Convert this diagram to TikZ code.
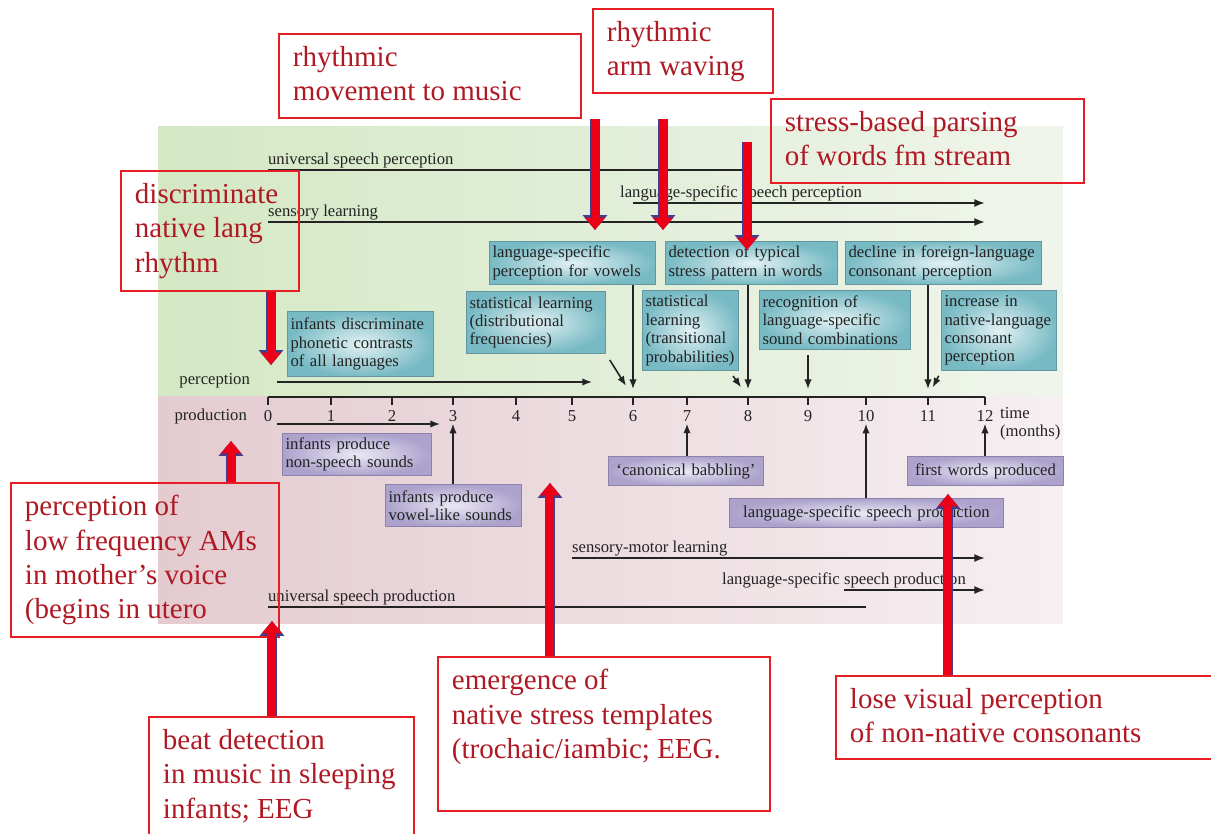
\documentclass[tikz,border=0pt]{standalone}
\usepackage{fontspec}
\setmainfont{Liberation Serif}
\usetikzlibrary{calc}
\usetikzlibrary{arrows.meta}

\definecolor{ink}{RGB}{35,35,35}
\definecolor{grnL}{RGB}{212,232,196}
\definecolor{grnR}{RGB}{240,245,236}
\definecolor{pnkL}{RGB}{228,203,208}
\definecolor{pnkR}{RGB}{246,239,241}
\definecolor{tealout}{RGB}{120,186,196}
\definecolor{tealin}{RGB}{226,241,243}
\definecolor{tealedge}{RGB}{100,150,160}
\definecolor{purpout}{RGB}{172,162,204}
\definecolor{purpin}{RGB}{236,233,245}
\definecolor{purpedge}{RGB}{140,130,172}
\definecolor{redline}{RGB}{228,30,36}
\definecolor{redtext}{RGB}{175,25,35}
\definecolor{hotred}{RGB}{236,0,24}
\definecolor{navy}{RGB}{70,60,140}

\newcommand\lblfont{\fontsize{9.5}{10.5}\selectfont}
\newcommand\redfont{\fontsize{16.5}{19.5}\selectfont}
\newcommand\redlines[3]{\parbox[c][#2][t]{#1}{\raggedright #3}}

\begin{document}
\begin{tikzpicture}[x=0.02cm, y=-0.02cm,
     lbl/.style={font=\lblfont, text=ink, inner sep=1pt},
     tbox/.style={draw=tealedge, line width=0.6pt, inner color=tealin, outer color=tealout,
                  anchor=north west, inner xsep=0.06cm, inner ysep=0.03cm,
                  font=\lblfont, text=ink, align=left},
     ubox/.style={tbox, draw=purpedge, inner color=purpin, outer color=purpout},
     redbox/.style={draw=redline, line width=1.1pt, anchor=north west,
                    inner xsep=0.28cm, inner ysep=0.25cm, font=\redfont, text=redtext},
     bar/.style={draw=ink, line width=1.1pt},
     barr/.style={bar, -{Latex[length=6pt,width=4.5pt]}},
     arr/.style={draw=ink, line width=0.9pt, -{Latex[length=5.5pt,width=4.2pt]}},
     bigarr/.style={draw=hotred, line width=4pt, -{Triangle[length=7pt,width=11pt]},
                    preaction={draw=navy, line width=5.6pt, -{Triangle[length=8.5pt,width=13.6pt]}}}
   ]
\useasboundingbox (0,0) rectangle (1211,834);

\fill[left color=grnL, right color=grnR] (158,127) rectangle (1063,397);
\fill[left color=pnkL, right color=pnkR] (158,397) rectangle (1063,623);

\foreach \i/\x in {0/268,1/331,2/392,3/453,4/516,5/572,6/633,7/687,8/748,9/808,10/866,11/928,12/985}
{
  \coordinate (t\i) at (\x,397);
  \node (n\i) [lbl] at (\x,416) {\i};
  \draw[line width=1pt, draw=ink] (t\i) -- ++(0,8);
}
\draw[line width=1.2pt, draw=ink] (t0) -- (t12);
\node (tm) [lbl, anchor=west, align=left] at (998,424) {time\\(months)};

\node (usp) [lbl, anchor=south west] at (266,170) {universal speech perception};
\draw[bar] (t0 |- usp.south) -- (t8 |- usp.south);
\node (lspp) [lbl, anchor=south west] at (618,203) {language-specific speech perception};
\draw[barr] (t6 |- lspp.south) -- (t12 |- lspp.south);
\node (sl) [lbl, anchor=south west] at (266,222) {sensory learning};
\draw[barr] (t0 |- sl.south) -- (t12 |- sl.south);

\node (smt) [lbl, anchor=south west] at (570,558) {sensory-motor learning};
\draw[barr] (t5 |- smt.south) -- (t12 |- smt.south);
\node (lsprod) [lbl, anchor=south west] at (720,590) {language-specific speech production};
\draw[barr] (lsprod.south) -- (t12 |- lsprod.south);
\node (uspr) [lbl, anchor=south west] at (266,607) {universal speech production};
\draw[bar] (t0 |- uspr.south) -- (t10 |- uspr.south);

\node (perc) [lbl, anchor=east] at (252,381) {perception};
\coordinate (percend) at (592,382);
\draw[arr, shorten <=14pt] (perc.east |- percend) -- (percend);
\node (prod) [lbl, anchor=east] at (249,416) {production};
\coordinate (prodend) at (440,424);
\draw[arr, shorten <=16pt] (prod.east |- prodend) -- (prodend);

\node (infdis) [tbox, text width=2.80cm, minimum height=1.30cm] at (287,311)
  {infants discriminate\\phonetic contrasts\\of all languages};
\node (statdist) [tbox, text width=2.66cm, minimum height=1.24cm] at (466,291)
  {statistical learning\\(distributional\\frequencies)};
\node (vow) [tbox, text width=3.20cm, minimum height=0.86cm] at (489,241)
  {language-specific\\perception for vowels};
\node (stress) [tbox, text width=3.32cm, minimum height=0.86cm] at (665,241)
  {detection of typical\\stress pattern in words};
\node (stattrans) [tbox, text width=1.80cm, minimum height=1.60cm] at (642,290)
  {statistical\\learning\\(transitional\\probabilities)};
\node (recog) [tbox, text width=2.90cm, minimum height=1.18cm] at (759,290)
  {recognition of\\language-specific\\sound combinations};
\node (decline) [tbox, text width=3.80cm, minimum height=0.86cm] at (845,241)
  {\mbox{decline in foreign-language}\\consonant perception};
\node (incr) [tbox, text width=2.18cm, minimum height=1.60cm] at (941,290)
  {increase in\\native-language\\consonant\\perception};

\node (nonsp) [ubox, text width=2.86cm, minimum height=0.84cm] at (282,433)
  {infants produce\\non-speech sounds};
\node (vowlike) [ubox, text width=2.60cm, minimum height=0.84cm] at (385,484)
  {infants produce\\vowel-like sounds};
\node (canon) [ubox, text width=2.98cm, minimum height=0.58cm, align=center] at (608,456)
  {`canonical babbling'};
\node (first) [ubox, text width=3.00cm, minimum height=0.58cm, align=center] at (907,456)
  {first words produced};
\node (lsp) [ubox, text width=5.36cm, minimum height=0.58cm, align=center] at (729,498)
  {language-specific speech production};

\draw[arr, shorten <=4pt, shorten >=7.5pt] (statdist.south east) -- (t6);
\draw[arr, shorten >=4.5pt] (vow.south -| t6) -- (t6);
\draw[arr, shorten >=6.8pt] ($(stattrans.south east)+(-6,5)$) -- (t8);
\draw[arr, shorten >=4.5pt] (stress.south -| t8) -- (t8);
\draw[arr, shorten <=3pt, shorten >=4.5pt] (recog.south -| t9) -- (t9);
\draw[arr, shorten >=4.5pt] (decline.south -| t11) -- (t11);
\draw[arr, shorten <=3pt, shorten >=6pt] (incr.south west) -- (t11);

\draw[arr] (vowlike.north -| n3) -- (n3.south);
\draw[arr] (canon.north -| n7) -- (n7.south);
\draw[arr] (lsp.north -| n10) -- (n10.south);
\draw[arr] (first.north -| n12) -- (n12.south);

\node (mov) [redbox] at (278,33) {\redlines{5.48cm}{1.18cm}{rhythmic\\movement to music}};
\node (arm) [redbox] at (592,8) {\redlines{3.04cm}{1.18cm}{rhythmic\\arm waving}};
\node (parse) [redbox] at (770,98) {\redlines{5.70cm}{1.18cm}{stress-based parsing\\of words fm stream}};
\node (discr) [redbox] at (120,170) {\redlines{3.00cm}{1.90cm}{discriminate\\native lang\\rhythm}};
\node (percep) [redbox] at (10,482)
  {\redlines{4.80cm}{2.58cm}{perception of\\low frequency AMs\\in mother's voice\\(begins in utero}};
\node (beat) [redbox] at (148,716)
  {\redlines{4.74cm}{1.98cm}{beat detection\\in music in sleeping\\infants; EEG}};
\node (emerg) [redbox] at (437,656)
  {\redlines{6.08cm}{2.58cm}{emergence of\\native stress templates\\(trochaic/iambic; EEG.}};
\node (lose) [redbox] at (835,675)
  {\redlines{7.04cm}{1.16cm}{lose visual perception\\of non-native consonants}};

\coordinate (tipA) at (595,230);
\draw[bigarr] (mov.south -| tipA) -- (tipA);
\coordinate (tailB) at (663,119);
\coordinate (tipB) at (663,230);
\draw[bigarr] (tailB) -- (tipB);
\coordinate (tailC) at (747,142);
\coordinate (tipC) at (747,250);
\draw[bigarr] (tailC) -- (tipC);
\coordinate (tipD) at (271,365);
\draw[bigarr] (discr.south -| tipD) -- (tipD);
\coordinate (tipE) at (231,441);
\draw[bigarr] (percep.north -| tipE) -- (tipE);
\coordinate (tipF) at (272,621);
\draw[bigarr] (beat.north -| tipF) -- (tipF);
\coordinate (tipG) at (550,483);
\draw[bigarr] (emerg.north -| tipG) -- (tipG);
\coordinate (tipH) at (948,494);
\draw[bigarr] (lose.north -| tipH) -- (tipH);
\end{tikzpicture}
\end{document}
